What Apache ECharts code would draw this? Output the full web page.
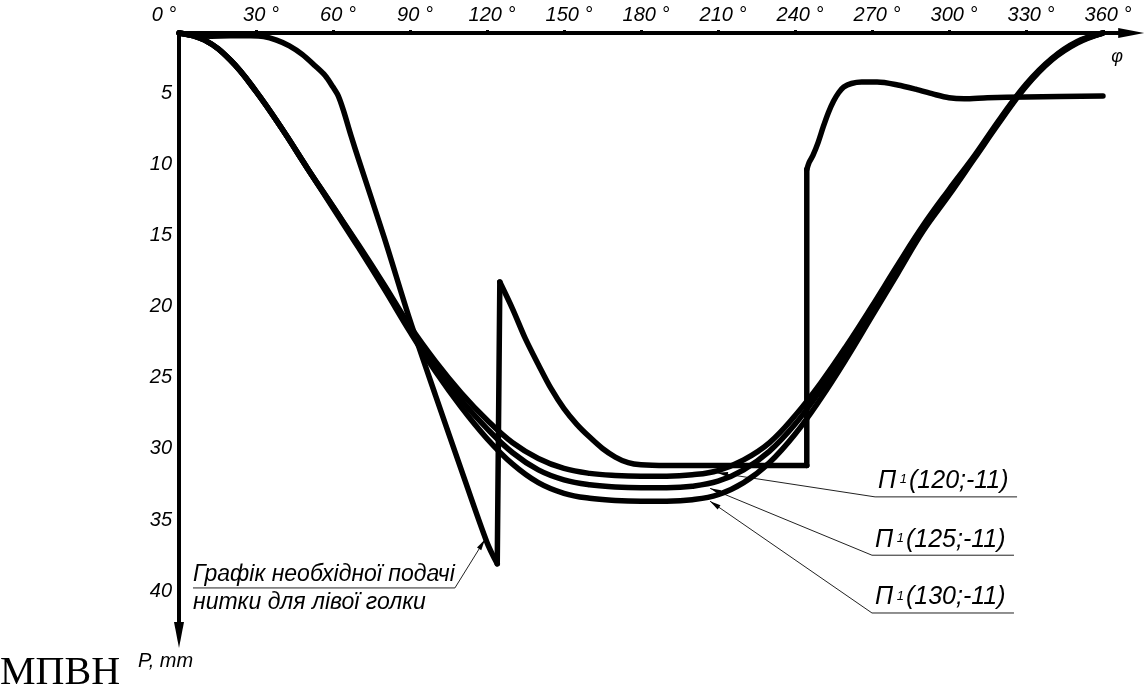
<!DOCTYPE html>
<html>
<head>
<meta charset="utf-8">
<script src="https://cdn.jsdelivr.net/npm/echarts@6/dist/echarts.min.js"></script>
<style>
  html, body { margin: 0; padding: 0; background: #fff; }
  #c { width: 1146px; height: 694px; }
</style>
</head>
<body>
<div id="c"></div>
<script>
// Tick labels
const xTicks = [0, 30, 60, 90, 120, 150, 180, 210, 240, 270, 300, 330, 360];
const yTicks = [5, 10, 15, 20, 25, 30, 35, 40];

// Thread feed curves П1 for three settings, φ in degrees, P in mm
const pAngles = [0, 10, 20, 30, 40, 50, 60, 70, 80, 90, 100, 110, 120, 130, 140, 150, 160, 170, 180,
                 190, 200, 210, 220, 230, 240, 250, 260, 270, 280, 290, 300, 310, 320, 330, 340, 350, 360];
const p120 = [0, 0.5, 1.9, 4.1, 6.7, 9.5, 12.2, 14.9, 17.7, 20.6, 23.1, 25.3, 27.2, 28.8, 29.9, 30.6, 30.95, 31.1, 31.15,
              31.15, 31.05, 30.75, 30.0, 28.8, 26.9, 24.6, 22.0, 19.2, 16.3, 13.5, 11.0, 8.6, 6.0, 3.6, 1.8, 0.6, 0];
const p125 = [0, 0.5, 1.9, 4.1, 6.7, 9.5, 12.2, 15.0, 17.8, 20.8, 23.4, 25.8, 27.8, 29.5, 30.7, 31.4, 31.75, 31.9, 31.95,
              31.95, 31.85, 31.5, 30.7, 29.4, 27.5, 25.1, 22.4, 19.5, 16.6, 13.7, 11.2, 8.7, 6.1, 3.7, 1.85, 0.65, 0];
const p130 = [0, 0.5, 1.9, 4.1, 6.7, 9.5, 12.3, 15.1, 18.0, 21.0, 23.8, 26.3, 28.5, 30.3, 31.6, 32.35, 32.7, 32.85, 32.9,
              32.9, 32.8, 32.45, 31.6, 30.2, 28.2, 25.7, 22.9, 19.9, 16.9, 13.9, 11.4, 8.8, 6.2, 3.75, 1.9, 0.7, 0];

// Required thread feed for the left needle, drawn piece by piece so the corners stay sharp
const needleDrop = [[0, 0], [5, 0.15], [12, 0.22], [20, 0.2], [28, 0.2], [33, 0.25], [38, 0.5], [43, 0.9], [48, 1.5],
                    [53, 2.3], [57, 3.0], [60, 3.8], [62, 4.4], [64, 5.4], [67, 7.2], [70, 8.9], [80, 14.4], [90, 20.2],
                    [100, 25.5], [110, 30.7], [120, 35.8], [124, 37.3]];
const needleJump = [[124, 37.3], [125, 17.5]];
const needleFall = [[125, 17.5], [130, 19.4], [135, 21.5], [140, 23.3], [145, 25.0], [150, 26.4], [155, 27.5],
                    [160, 28.4], [165, 29.2], [170, 29.8], [175, 30.2], [180, 30.35], [190, 30.4], [244.6, 30.4]];
const needleStep = [[244.6, 30.4], [244.6, 9.6]];
const needleTail = [[244.6, 9.6], [245.5, 9.1], [247, 8.6], [249, 7.7], [251, 6.6], [253, 5.6], [255, 4.8], [257, 4.2],
                    [259, 3.8], [262, 3.55], [266, 3.45], [272, 3.45], [280, 3.65], [287, 3.95], [294, 4.3], [300, 4.55],
                    [306, 4.62], [315, 4.55], [330, 4.5], [360, 4.43]];

// Callout texts
const needleCaption = ['Графік необхідної подачі', 'нитки для лівої голки'];
const pCaptions = ['(120;-11)', '(125;-11)', '(130;-11)'];

const FONT = 'Liberation Sans';
const chart = echarts.init(document.getElementById('c'), null, { renderer: 'canvas' });

const curveStyle = { color: '#000', width: 5.5, cap: 'round', join: 'round' };
function curve(name, data, smooth) {
  return {
    type: 'line', name: name, data: data, smooth: smooth, showSymbol: false, symbol: 'none',
    lineStyle: curveStyle, silent: true, clip: false, animation: false
  };
}
const zip = (xs, ys) => xs.map((x, i) => [x, ys[i]]);

chart.setOption({
  animation: false,
  backgroundColor: '#fff',
  grid: { left: 179, top: 33, right: 14.8, bottom: 59.1 },
  xAxis: {
    type: 'value', position: 'top', min: 0, max: 371, interval: 30,
    splitLine: { show: false },
    axisLine: { show: true, onZero: false, symbol: ['none', 'triangle'], symbolSize: [10, 26],
                lineStyle: { color: '#000', width: 4 } },
    axisTick: { show: true, customValues: xTicks, length: 3, lineStyle: { color: '#000', width: 3 } },
    axisLabel: {
      customValues: xTicks, margin: 8, color: '#000', fontFamily: FONT, fontStyle: 'italic', fontSize: 20,
      padding: [0, 0, 0, 10],
      formatter: v => (v === 0 ? '{z|0 °}' : v + ' °'),
      rich: { z: { fontFamily: FONT, fontStyle: 'italic', fontSize: 20, color: '#000', padding: [0, 40, 0, 0] } }
    }
  },
  yAxis: {
    type: 'value', inverse: true, min: 0, max: 42.3, interval: 5,
    splitLine: { show: false },
    axisLine: { show: true, onZero: false, symbol: ['triangle', 'none'], symbolSize: [10, 26],
                lineStyle: { color: '#000', width: 4 } },
    axisTick: { show: false },
    axisLabel: {
      customValues: yTicks, margin: 7, color: '#000', fontFamily: FONT, fontStyle: 'italic', fontSize: 20,
      verticalAlign: 'bottom', lineHeight: 20, padding: [0, 0, 1, 0]
    }
  },
  series: [
    curve('П1(120;-11)', zip(pAngles, p120), 0.4),
    curve('П1(125;-11)', zip(pAngles, p125), 0.4),
    curve('П1(130;-11)', zip(pAngles, p130), 0.4),
    curve('needle-drop', needleDrop, 0.3),
    curve('needle-jump', needleJump, false),
    curve('needle-fall', needleFall, 0.3),
    curve('needle-step', needleStep, false),
    curve('needle-tail', needleTail, 0.3)
  ]
});

// Callouts: leader line with a small arrowhead ending on the curve
function px(pt) { return chart.convertToPixel({ gridIndex: 0 }, pt); }
function arrowHead(tail, tip, len, w) {
  const dx = tip[0] - tail[0], dy = tip[1] - tail[1];
  const d = Math.hypot(dx, dy), ux = dx / d, uy = dy / d;
  const bx = tip[0] - ux * len, by = tip[1] - uy * len;
  return {
    type: 'polygon', silent: true,
    shape: { points: [tip, [bx - uy * w / 2, by + ux * w / 2], [bx + uy * w / 2, by - ux * w / 2]] },
    style: { fill: '#000' }
  };
}
function thin(a, b) {
  return { type: 'line', silent: true, shape: { x1: a[0], y1: a[1], x2: b[0], y2: b[1] },
           style: { stroke: '#222', lineWidth: 1 } };
}

const g = [];

// Left-needle callout: underline between two text lines, leader to the falling branch
{
  const uL = px([5.45, 39.0]), uR = px([107.5, 39.0]), tip = px([119.2, 35.6]);
  g.push(thin(uL, uR), thin(uR, tip), arrowHead(uR, tip, 11, 5));
  g.push({ type: 'text', silent: true, x: uL[0], y: uL[1] - 13,
           style: { text: needleCaption[0], font: 'italic 23px "' + FONT + '"', fill: '#000',
                    align: 'left', verticalAlign: 'middle' } });
  g.push({ type: 'text', silent: true, x: uL[0], y: uL[1] + 15,
           style: { text: needleCaption[1], font: 'italic 23px "' + FONT + '"', fill: '#000',
                    align: 'left', verticalAlign: 'middle' } });
}

// П1 callouts
const pAnchors = [[271.2, 32.6], [270.0, 36.7], [270.0, 40.76]];
const pTips = [[209.6, 30.9], [206.9, 32.0], [206.9, 32.9]];
pCaptions.forEach((cap, i) => {
  const uL = px(pAnchors[i]), tip = px(pTips[i]);
  const uR = [uL[0] + 142, uL[1]];
  g.push(thin(uL, uR), thin(uL, tip), arrowHead(uL, tip, 11, 5));
  g.push({ type: 'text', silent: true, x: uL[0] + 3, y: uL[1] - 3,
           style: { text: '{a|П}{s| 1}{a|' + cap + '}', fill: '#000', align: 'left', verticalAlign: 'bottom',
                    rich: { a: { fontFamily: FONT, fontStyle: 'italic', fontSize: 25, fill: '#000' },
                            s: { fontFamily: FONT, fontStyle: 'italic', fontSize: 13, fill: '#000', padding: [0, 2, 3, 0] } } } });
});

// Axis names and drawing mark
const phiPos = px([365.5, 1.7]);
g.push({ type: 'text', silent: true, x: phiPos[0], y: phiPos[1],
         style: { text: 'φ', font: 'italic 18px "' + FONT + '"', fill: '#000', align: 'center', verticalAlign: 'middle' } });
const pPos = px([-16, 44.2]);
g.push({ type: 'text', silent: true, x: pPos[0], y: pPos[1],
         style: { text: 'P, mm', font: 'italic 20px "' + FONT + '"', fill: '#000', align: 'left', verticalAlign: 'middle' } });
g.push({ type: 'text', silent: true, x: 0, y: 673,
         style: { text: 'МПВН', font: '40px "Liberation Serif"', fill: '#000', align: 'left', verticalAlign: 'middle' } });

chart.setOption({ graphic: g });
</script>
</body>
</html>
